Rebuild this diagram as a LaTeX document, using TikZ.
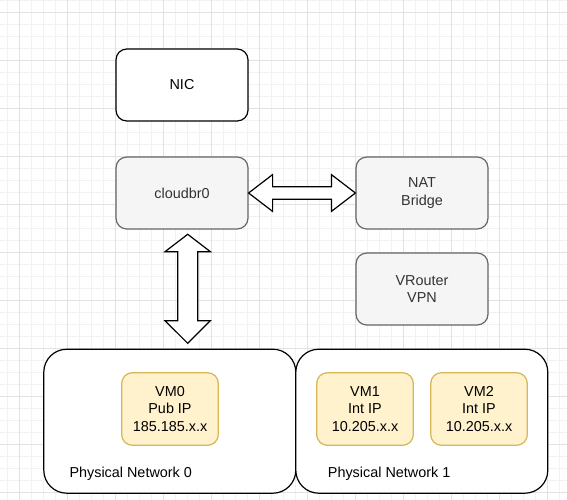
\documentclass[tikz,border=0pt]{standalone}
\usepackage{fontspec}
\setmainfont{Liberation Sans}
\usetikzlibrary{calc}
\definecolor{minorg}{HTML}{F2F2F2}
\definecolor{majorg}{HTML}{E2E2E2}
\definecolor{grayfill}{HTML}{F5F5F5}
\definecolor{graydraw}{HTML}{666666}
\definecolor{graytext}{HTML}{333333}
\definecolor{vmfill}{HTML}{FFF2CC}
\definecolor{vmdraw}{HTML}{D6B656}
\tikzset{
  minorgrid/.style={draw=minorg,line width=0.8pt},
  majorgrid/.style={draw=majorg,line width=0.8pt},
  txt/.style={font=\fontsize{14.4}{17.3}\selectfont,align=center},
  plainbox/.style={txt,draw=black,fill=white,line width=1.2pt,rounded corners=10.8pt,minimum width=132pt,minimum height=72pt,inner sep=0pt},
  graybox/.style={txt,draw=graydraw,fill=grayfill,text=graytext,line width=1.2pt,rounded corners=10.8pt,minimum width=132pt,minimum height=72pt,inner sep=0pt},
  vmbox/.style={txt,draw=vmdraw,fill=vmfill,line width=1.2pt,rounded corners=10.8pt,minimum width=96.6pt,minimum height=72.6pt,inner sep=0pt},
  netbox/.style={draw=black,fill=white,line width=1.2pt,rounded corners=23pt,minimum width=252pt,minimum height=144pt,inner sep=0pt},
  netlabel/.style={txt,anchor=base west,inner sep=0pt},
  bigarrow/.style={draw=black,fill=white,line width=1.2pt,line join=miter}
}
\begin{document}
\begin{tikzpicture}[x=1pt,y=-1pt]
\useasboundingbox (0,0) rectangle (567,500);
\fill[white] (0,0) rectangle (567,500);
\foreach \x in {7,19,...,559} \draw[minorgrid] (\x,0) -- (\x,500);
\foreach \y in {0,12,...,492} \draw[minorgrid] (0,\y) -- (567,\y);
\foreach \x in {19,67,...,547} \draw[majorgrid] (\x,0) -- (\x,500);
\foreach \y in {12,60,...,492} \draw[majorgrid] (0,\y) -- (567,\y);

\node[netbox] (pn0) at (169.8,421.2) {};
\node[netbox] (pn1) at (421.8,421.2) {};
\node[netlabel] (pn0l) at (69.3,477.7) {Physical Network 0};
\node[netlabel] (pn1l) at (327.7,477.7) {Physical Network 1};

\node[vmbox] (vm0) at (170,409) {VM0\\Pub IP\\185.185.x.x};
\node[vmbox] (vm1) at (365,409) {VM1\\Int IP\\10.205.x.x};
\node[vmbox] (vm2) at (479,409) {VM2\\Int IP\\10.205.x.x};

\node[plainbox] (nic) at (182,85) {NIC};
\node[graybox] (cb) at (182,193) {cloudbr0};
\node[graybox] (nat) at (422,193) {NAT\\Bridge};
\node[graybox] (vr) at (422,289) {VRouter\\VPN};

% horizontal double arrow between cloudbr0 and NAT Bridge
\draw[bigarrow] (cb.east) -- ++(24,-18.4) -- ++(0,12.1) -- ($(nat.west)+(-24,-6.3)$) -- ++(0,-12.1) -- (nat.west) -- ++(-24,18.4) -- ++(0,-12.1) -- ($(cb.east)+(24,6.3)$) -- ++(0,12.1) -- cycle;

% vertical double arrow between cloudbr0 and Physical Network 0
\coordinate (vt) at (187.7,234.3);
\coordinate (vb) at (187.7,343.3);
\draw[bigarrow] (vt) -- ++(22.7,17.4) -- ++(-12.7,0) -- ($(vb)+(10,-22.6)$) -- ++(12.7,0) -- (vb) -- ++(-22.7,-22.6) -- ++(12.7,0) -- ($(vt)+(-10,17.4)$) -- ++(-12.7,0) -- cycle;
\end{tikzpicture}
\end{document}
